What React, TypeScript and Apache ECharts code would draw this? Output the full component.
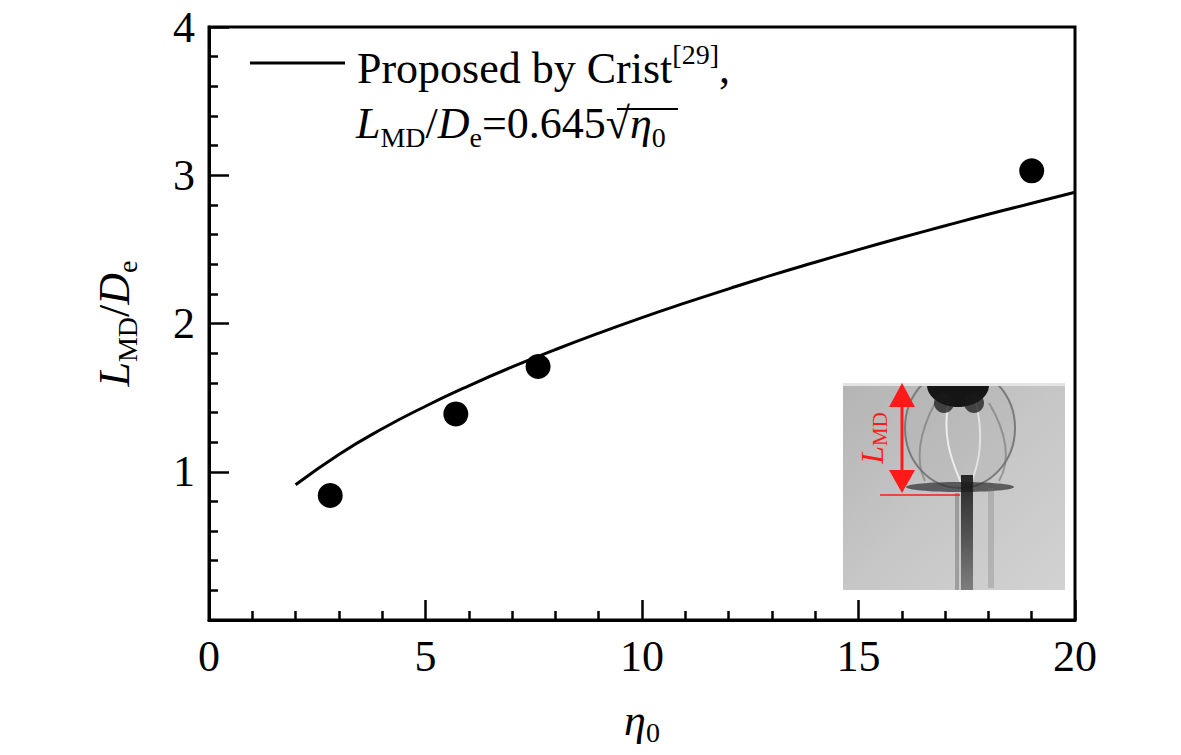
import React, { useEffect, useRef } from 'react';
import * as echarts from 'echarts';

// measured points (eta0, L_MD/De)
const etaMeasured = [2.8, 5.7, 7.6, 19.0];
const lmdMeasured = [0.84, 1.39, 1.71, 3.03];

// Crist curve
const etaCurve = [2, 3, 4, 5, 6, 7, 8, 9, 10, 11, 12, 13, 14, 15, 16, 17, 18, 19, 20];
const lmdCurve = [0.912, 1.117, 1.29, 1.442, 1.58, 1.707, 1.824, 1.935, 2.04, 2.139, 2.234, 2.326, 2.413, 2.498, 2.58, 2.659, 2.737, 2.811, 2.885];

const xTicks = [0, 5, 10, 15, 20];
const yTicks = [1, 2, 3, 4];

const SERIF = '"Liberation Serif", "Times New Roman", serif';
const RED = '#ff1a1a';

const App = () => {
  const chartRef = useRef<HTMLDivElement | null>(null);

  useEffect(() => {
    if (!chartRef.current) return;
    const chart = echarts.init(chartRef.current, null, { renderer: 'svg' });

    const axisCommon = {
      type: 'value' as const,
      axisLine: { show: true, lineStyle: { color: '#000', width: 3 } },
      axisTick: { show: true, inside: true, length: 20, lineStyle: { color: '#000', width: 2.5 } },
      minorTick: { show: true, splitNumber: 5, length: 9, lineStyle: { color: '#000', width: 2.5 } },
      splitLine: { show: false },
      minorSplitLine: { show: false },
      nameLocation: 'middle' as const,
    };

    const option = {
      animation: false,
      grid: {
        left: 209, right: 106, top: 27, bottom: 135,
        show: true, borderColor: '#000', borderWidth: 3, backgroundColor: 'transparent'
      },
      xAxis: {
        ...axisCommon,
        min: xTicks[0], max: xTicks[xTicks.length - 1], interval: 5,
        axisLabel: { fontSize: 44, color: '#000', fontFamily: SERIF, margin: 14 },
        name: '{i|η}{s|0}',
        nameGap: 74,
        nameTextStyle: {
          rich: {
            i: { fontSize: 44, fontStyle: 'italic', fontFamily: SERIF, color: '#000', lineHeight: 52, verticalAlign: 'middle' },
            s: { fontSize: 28, fontFamily: SERIF, color: '#000', lineHeight: 28, verticalAlign: 'bottom' }
          }
        }
      },
      yAxis: {
        ...axisCommon,
        min: 0, max: yTicks[yTicks.length - 1], interval: 1,
        axisLabel: {
          fontSize: 44, color: '#000', fontFamily: SERIF, margin: 14,
          formatter: (v: number) => (yTicks.includes(v) ? String(v) : '')
        },
        name: '{i|L}{s|MD}{n|/}{i|D}{s|e}',
        nameGap: 68,
        nameTextStyle: {
          rich: {
            i: { fontSize: 44, fontStyle: 'italic', fontFamily: SERIF, color: '#000', lineHeight: 54, verticalAlign: 'middle' },
            n: { fontSize: 44, fontFamily: SERIF, color: '#000', lineHeight: 54, verticalAlign: 'middle' },
            s: { fontSize: 28, fontFamily: SERIF, color: '#000', lineHeight: 28, verticalAlign: 'bottom' }
          }
        }
      },
      series: [
        {
          name: 'Crist',
          type: 'line',
          data: etaCurve.map((x, i) => [x, lmdCurve[i]]),
          showSymbol: false,
          smooth: true,
          lineStyle: { color: '#000', width: 3 },
          z: 2
        },
        {
          name: 'Measured',
          type: 'scatter',
          data: etaMeasured.map((x, i) => [x, lmdMeasured[i]]),
          symbol: 'circle',
          symbolSize: 25,
          itemStyle: { color: '#000', opacity: 1 },
          z: 3
        }
      ],
      graphic: [
        // legend
        { type: 'line', shape: { x1: 250, y1: 63, x2: 345, y2: 63 }, style: { stroke: '#000', lineWidth: 3 } },
        {
          type: 'text', x: 357, y: 40,
          style: {
            text: '{a|Proposed by Crist}{p|[29]}{a|,}',
            rich: {
              a: { fontSize: 44, fontFamily: SERIF, fill: '#000', lineHeight: 56, verticalAlign: 'middle' },
              p: { fontSize: 28, fontFamily: SERIF, fill: '#000', lineHeight: 28, verticalAlign: 'top' }
            }
          }
        },
        {
          type: 'text', x: 356, y: 95,
          style: {
            text: '{i|L}{s|MD}{a|/}{i|D}{s|e}{a|=0.645√}{i|η}{s|0}',
            rich: {
              a: { fontSize: 44, fontFamily: SERIF, fill: '#000', lineHeight: 56, verticalAlign: 'middle' },
              i: { fontSize: 44, fontStyle: 'italic', fontFamily: SERIF, fill: '#000', lineHeight: 56, verticalAlign: 'middle' },
              s: { fontSize: 28, fontFamily: SERIF, fill: '#000', lineHeight: 28, verticalAlign: 'bottom' }
            }
          }
        },
        { type: 'line', shape: { x1: 617, y1: 109, x2: 678, y2: 109 }, style: { stroke: '#000', lineWidth: 2 } },
        // inset photograph (schematic)
        {
          type: 'group', x: 843, y: 383,
          children: [
            {
              type: 'rect', shape: { x: 0, y: 0, width: 222, height: 207 },
              style: {
                fill: new echarts.graphic.LinearGradient(0, 0, 1, 1, [
                  { offset: 0, color: '#b4b4b4' },
                  { offset: 0.5, color: '#c6c6c6' },
                  { offset: 1, color: '#d2d2d2' }
                ])
              }
            },
            // bubble
            {
              type: 'ellipse', shape: { cx: 117, cy: 45, rx: 55, ry: 60 },
              style: { fill: 'rgba(175,175,175,0.35)', stroke: '#7a7a7a', lineWidth: 2 }
            },
            // inner threads
            { type: 'bezierCurve', shape: { x1: 106, y1: 15, cpx1: 98, cpy1: 55, x2: 118, y2: 100, cpx2: 110, cpy2: 80 }, style: { stroke: '#ededed', lineWidth: 2, fill: 'none' } },
            { type: 'bezierCurve', shape: { x1: 132, y1: 15, cpx1: 142, cpy1: 55, x2: 128, y2: 100, cpx2: 136, cpy2: 80 }, style: { stroke: '#e2e2e2', lineWidth: 2, fill: 'none' } },
            { type: 'bezierCurve', shape: { x1: 92, y1: 20, cpx1: 76, cpy1: 50, x2: 82, y2: 98, cpx2: 72, cpy2: 78 }, style: { stroke: 'rgba(110,110,110,0.55)', lineWidth: 2, fill: 'none' } },
            { type: 'bezierCurve', shape: { x1: 146, y1: 20, cpx1: 164, cpy1: 50, x2: 156, y2: 98, cpx2: 168, cpy2: 78 }, style: { stroke: 'rgba(110,110,110,0.55)', lineWidth: 2, fill: 'none' } },
            // dark cap at the top
            { type: 'ellipse', shape: { cx: 115, cy: 2, rx: 31, ry: 22 }, style: { fill: '#151515' } },
            { type: 'ellipse', shape: { cx: 101, cy: 20, rx: 10, ry: 10 }, style: { fill: 'rgba(25,25,25,0.75)' } },
            { type: 'ellipse', shape: { cx: 131, cy: 20, rx: 10, ry: 10 }, style: { fill: 'rgba(25,25,25,0.75)' } },
            // cover anything above the photo
            { type: 'rect', shape: { x: -5, y: -40, width: 232, height: 40 }, style: { fill: '#fff' } },
            { type: 'rect', shape: { x: 0, y: 0, width: 222, height: 3 }, style: { fill: '#e4e4e4' } },
            // bottom band of bubble
            { type: 'ellipse', shape: { cx: 117, cy: 104, rx: 54, ry: 5 }, style: { fill: 'rgba(45,45,45,0.7)' } },
            // vertical wake streaks
            {
              type: 'rect', shape: { x: 118, y: 92, width: 12, height: 115 },
              style: {
                fill: new echarts.graphic.LinearGradient(0, 0, 0, 1, [
                  { offset: 0, color: 'rgba(20,20,20,0.9)' },
                  { offset: 0.6, color: 'rgba(40,40,40,0.7)' },
                  { offset: 1, color: 'rgba(60,60,60,0.55)' }
                ])
              }
            },
            { type: 'rect', shape: { x: 112, y: 110, width: 4, height: 97 }, style: { fill: 'rgba(90,90,90,0.4)' } },
            { type: 'rect', shape: { x: 145, y: 105, width: 6, height: 100 }, style: { fill: 'rgba(120,120,120,0.3)' } },
            // red dimension arrow
            { type: 'line', shape: { x1: 59, y1: 20, x2: 59, y2: 92 }, style: { stroke: RED, lineWidth: 3 } },
            { type: 'polygon', shape: { points: [[59, 0], [46, 24], [72, 24]] }, style: { fill: RED } },
            { type: 'polygon', shape: { points: [[59, 110], [46, 87], [72, 87]] }, style: { fill: RED } },
            { type: 'line', shape: { x1: 37, y1: 112, x2: 117, y2: 112 }, style: { stroke: RED, lineWidth: 1.5 } },
            {
              type: 'text', x: 29, y: 55, rotation: Math.PI / 2,
              style: {
                text: '{i|L}{s|MD}',
                align: 'center', verticalAlign: 'middle',
                rich: {
                  i: { fontSize: 32, fontStyle: 'italic', fontFamily: SERIF, fill: RED, lineHeight: 36, verticalAlign: 'middle' },
                  s: { fontSize: 21, fontFamily: SERIF, fill: RED, lineHeight: 21, verticalAlign: 'bottom' }
                }
              }
            }
          ]
        }
      ]
    };

    chart.setOption(option);

    return () => {
      chart.dispose();
    };
  }, []);

  return (
    <div
      ref={chartRef}
      style={{ position: 'absolute', left: 0, top: 0, width: '1181px', height: '755px', background: '#fff' }}
    />
  );
};

export default App;
